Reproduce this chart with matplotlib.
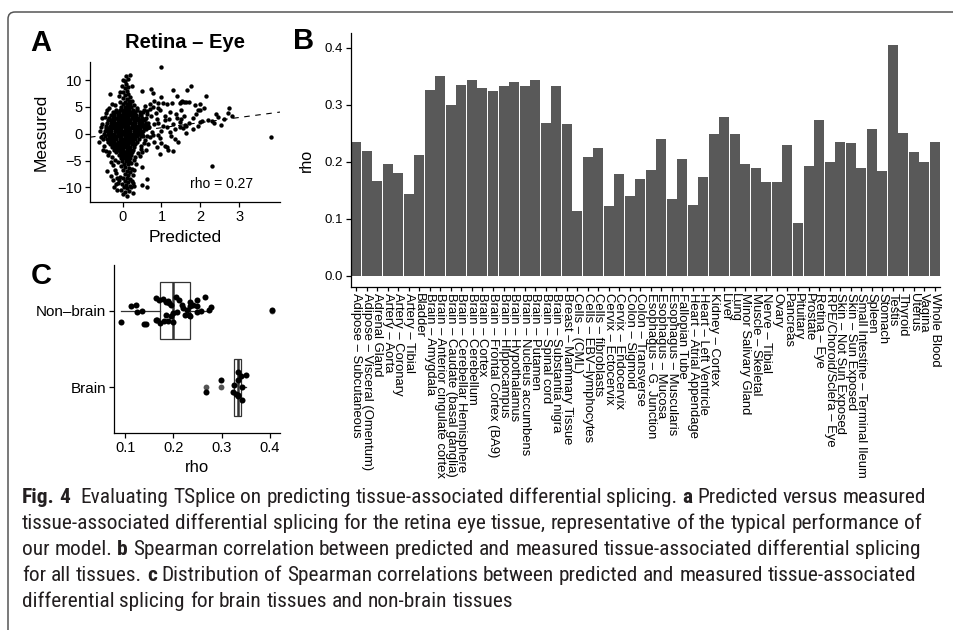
import numpy as np
import matplotlib
matplotlib.use("Agg")
import matplotlib.pyplot as plt
from matplotlib.path import Path
from matplotlib.patches import PathPatch
from matplotlib.transforms import IdentityTransform
from matplotlib import font_manager

# ---------------- data ----------------
tissues = [
    "Adipose – Subcutaneous", "Adipose – Visceral (Omentum)", "Adrenal Gland",
    "Artery – Aorta", "Artery – Coronary", "Artery – Tibial", "Bladder",
    "Brain – Amygdala", "Brain – Anterior cingulate cortex",
    "Brain – Caudate (basal ganglia)", "Brain – Cerebellar Hemisphere",
    "Brain – Cerebellum", "Brain – Cortex", "Brain – Frontal Cortex (BA9)",
    "Brain – Hippocampus", "Brain – Hypothalamus", "Brain – Nucleus accumbens",
    "Brain – Putamen", "Brain – Spinal cord", "Brain – Substantia nigra",
    "Breast – Mammary Tissue", "Cells – (CML)", "Cells – EBV–lymphocytes",
    "Cells – fibroblasts", "Cervix – Ectocervix", "Cervix – Endocervix",
    "Colon – Sigmoid", "Colon – Transverse", "Esophagus – G. Junction",
    "Esophagus – Mucosa", "Esophagus – Muscularis", "Fallopian Tube",
    "Heart – Atrial Appendage", "Heart – Left Ventricle", "Kidney – Cortex",
    "Liver", "Lung", "Minor Salivary Gland", "Muscle – Skeletal",
    "Nerve – Tibial", "Ovary", "Pancreas", "Pituitary", "Prostate",
    "Retina – Eye", "RPE/Choroid/Sclera – Eye", "Skin – Not Sun Exposed",
    "Skin – Sun Exposed", "Small Intestine – Terminal Ileum", "Spleen",
    "Stomach", "Testis", "Thyroid", "Uterus", "Vagina", "Whole Blood",
]
rho = [
    0.234, 0.219, 0.166, 0.196, 0.180, 0.144, 0.212,
    0.326, 0.350, 0.299, 0.334, 0.343, 0.329, 0.324, 0.333, 0.340, 0.333,
    0.343, 0.268, 0.333,
    0.266, 0.113, 0.208, 0.224, 0.122, 0.178, 0.140, 0.170, 0.185, 0.240,
    0.134, 0.205, 0.124, 0.173, 0.248, 0.278, 0.248, 0.196, 0.189, 0.164,
    0.164, 0.229, 0.092, 0.192, 0.273, 0.199, 0.234, 0.233, 0.189, 0.257,
    0.184, 0.405, 0.250, 0.217, 0.199, 0.234,
]
# vertical jitter, in tissue order within each group
brain_jitter = [0.035, 0.165, 0.100, 0.090, 0.0, -0.083, -0.065, 0.196,
                0.143, -0.117, -0.170, -0.065, -0.096]
nonbrain_jitter = [0.122, 0.035, -0.126, 0.078, -0.139, -0.178, 0.143,
                   0.187, 0.065, -0.010, -0.052, 0.074, 0.152, -0.170, 0.143,
                   -0.052, 0.078, 0.0, 0.178, -0.010, -0.161, 0.143, 0.048,
                   0.065, -0.074, 0.135, 0.174, -0.117, 0.013, -0.152, 0.100,
                   0.013, -0.030, 0.065, -0.052, -0.139, 0.004, 0.122, 0.013,
                   -0.010, 0.078, -0.152, -0.074]

# Panel A scatter: predicted vs measured (Retina - Eye)
core_rows = {
    5.0: [-0.05, 0.05, 0.13, 0.21],
    4.5: [-0.18, -0.08, 0.01, 0.09, 0.17, 0.26, 0.36],
    4.0: [-0.26, -0.17, -0.09, 0.0, 0.08, 0.16, 0.24, 0.33, 0.44],
    3.5: [-0.30, -0.22, -0.13, -0.05, 0.03, 0.11, 0.19, 0.27, 0.35, 0.46],
    3.0: [-0.34, -0.26, -0.17, -0.09, -0.01, 0.07, 0.15, 0.23, 0.31, 0.40, 0.50],
    2.5: [-0.37, -0.29, -0.21, -0.12, -0.04, 0.04, 0.12, 0.20, 0.28, 0.36, 0.45, 0.55],
    2.0: [-0.40, -0.31, -0.23, -0.15, -0.07, 0.01, 0.09, 0.17, 0.25, 0.33, 0.41, 0.50, 0.60],
    1.5: [-0.42, -0.33, -0.25, -0.17, -0.09, -0.01, 0.07, 0.15, 0.23, 0.31, 0.39, 0.47, 0.57],
    1.0: [-0.44, -0.35, -0.27, -0.19, -0.11, -0.03, 0.05, 0.13, 0.21, 0.29, 0.37, 0.45, 0.54],
    0.5: [-0.46, -0.37, -0.29, -0.20, -0.12, -0.04, 0.04, 0.12, 0.20, 0.28, 0.36, 0.44, 0.52],
    0.0: [-0.47, -0.38, -0.30, -0.21, -0.13, -0.05, 0.03, 0.11, 0.19, 0.27, 0.35, 0.43, 0.51],
    -0.5: [-0.45, -0.36, -0.28, -0.19, -0.11, -0.03, 0.05, 0.13, 0.21, 0.29, 0.37, 0.46],
    -1.0: [-0.41, -0.33, -0.25, -0.16, -0.08, 0.00, 0.08, 0.16, 0.24, 0.32, 0.41],
    -1.5: [-0.37, -0.29, -0.21, -0.13, -0.05, 0.03, 0.11, 0.19, 0.27, 0.36],
    -2.0: [-0.33, -0.25, -0.17, -0.09, -0.01, 0.07, 0.15, 0.23, 0.31],
    -2.5: [-0.28, -0.20, -0.12, -0.04, 0.04, 0.12, 0.20, 0.28],
    -3.0: [-0.22, -0.14, -0.06, 0.02, 0.10, 0.18, 0.26],
    -3.5: [-0.16, -0.08, 0.00, 0.08, 0.16, 0.24],
    -4.0: [-0.10, -0.02, 0.06, 0.14, 0.22],
    -4.5: [-0.05, 0.03, 0.11, 0.19],
}
edge_pts = [(-0.52, 2.9), (-0.55, 1.2), (-0.50, -1.0), (-0.47, -2.3), (-0.42, 3.8),
            (-0.35, 4.8), (-0.28, 5.6), (-0.20, 5.3), (0.30, 5.3), (0.38, 4.9),
            (0.52, 4.0), (0.60, 2.9), (0.66, 1.4), (0.62, -0.4), (0.55, -1.8),
            (0.48, -2.9), (0.40, -3.6), (0.32, -4.3), (-0.35, -3.5), (-0.42, -3.3),
            (-0.28, -4.4), (-0.20, -4.9), (0.28, -4.9), (-0.12, -5.3), (0.35, -5.6),
            (-0.25, -5.8), (0.30, -6.8), (-0.18, -7.4), (0.26, -7.8), (-0.30, -7.9)]
streak_up = [(0.02, 5.5), (0.12, 5.5), (0.20, 5.6), (-0.06, 5.9), (0.07, 6.0), (0.16, 6.1),
             (0.25, 6.2), (0.0, 6.6), (0.10, 6.5), (0.19, 6.8), (-0.10, 7.0), (0.05, 7.2),
             (0.14, 7.4), (0.02, 7.8), (-0.07, 7.8), (0.10, 8.0), (0.06, 8.5), (0.15, 8.7),
             (-0.02, 8.9), (0.08, 9.3), (0.06, 9.8), (0.016, 10.1), (0.085, 10.7),
             (0.20, 10.9), (0.15, 10.3), (0.24, 9.0)]
streak_down = [(-0.02, -5.0), (0.08, -5.1), (0.17, -5.0), (0.03, -5.6), (0.13, -5.7),
               (0.22, -5.5), (-0.05, -6.1), (0.07, -6.2), (0.16, -6.4), (0.00, -6.8),
               (0.11, -6.9), (0.20, -7.2), (0.05, -7.5), (0.14, -7.7), (-0.06, -8.0),
               (0.02, -8.3), (0.10, -8.2), (0.19, -8.4), (-0.10, -8.7), (0.06, -8.9),
               (0.15, -9.0), (0.24, -8.8), (-0.02, -9.4), (0.09, -9.5), (0.18, -9.7),
               (0.03, -10.0), (0.12, -10.2), (0.21, -10.0), (-0.04, -10.5), (0.07, -10.8),
               (0.16, -10.7), (0.01, -11.3), (0.10, -11.6), (0.27, -11.0), (-0.13, -9.2),
               (0.30, -9.8), (-0.25, -8.6), (-0.18, -9.3), (-0.22, -10.0), (-0.15, -8.2),
               (0.27, -9.2), (-0.20, -6.8), (0.25, -6.5), (-0.15, -10.6)]
left_pts = [(-0.62, -1.5), (-0.50, -3.1), (-0.40, -6.9), (-0.55, -0.6), (-0.58, 0.5),
            (-0.52, 1.9), (-0.45, 3.2), (-0.40, 4.5), (-0.33, 7.4), (-0.30, -5.2),
            (-0.38, -4.0)]
right_pts = [(0.49, 7.9), (0.73, 8.4), (0.77, 7.7), (1.30, 8.1), (1.39, 7.0), (1.28, 5.8),
             (0.92, 5.8), (1.03, 5.8), (1.15, 5.6), (1.47, 5.8), (0.79, 5.0), (0.97, 4.4),
             (1.22, 4.0), (1.37, 3.7), (0.54, 4.4), (0.62, 3.7), (0.70, 4.7), (0.58, 2.8),
             (0.88, 2.8), (1.09, 2.5), (1.30, 1.9), (1.47, 2.2), (1.13, 1.25), (1.00, 0.6),
             (1.22, 0.3), (0.92, -0.3), (0.70, -0.6), (1.13, -2.5), (1.17, -3.1), (1.43, -1.6),
             (0.88, -2.5), (0.66, -1.9), (0.49, -6.3), (0.62, -8.4), (0.49, -9.6), (0.62, -9.9),
             (0.45, 3.5), (0.50, 2.5), (0.55, 1.7), (0.60, 0.8), (0.52, -0.5), (0.58, -1.2),
             (0.48, -2.3), (0.65, 2.0), (0.72, 3.3), (0.68, 1.2), (0.75, 0.3), (0.80, 1.8),
             (0.85, 3.8), (0.90, 2.0), (0.95, -0.8), (1.05, 1.5), (1.10, 3.3), (0.62, 4.2),
             (0.70, 5.5), (0.57, 5.2), (0.82, -1.5), (0.50, -3.5), (0.45, -4.2), (0.60, -3.0),
             (0.77, -0.2), (1.00, -1.7), (1.20, 2.8), (1.25, -0.5), (1.35, 0.8), (1.40, 3.0),
             (1.55, 1.0), (1.58, 3.3), (1.50, 4.5), (1.80, 3.0), (1.85, 5.3), (2.00, 5.6),
             (1.70, 2.0), (2.05, 2.4), (2.35, 2.0), (2.45, 3.1), (2.60, 2.8), (1.35, -1.0),
             (0.90, 4.9), (1.00, 6.8), (0.80, 6.2), (0.95, -3.8), (1.30, -3.3), (1.10, -2.2),
             (0.98, 12.4), (1.75, 9.0), (1.66, 8.1), (1.49, 6.0), (1.54, 6.1), (1.59, 6.0),
             (1.64, 6.0), (1.71, 5.9), (2.14, 7.0), (2.09, 4.8), (1.95, 4.5), (1.99, 4.4),
             (1.90, 3.7), (2.40, 3.6), (2.74, 4.9), (2.72, 3.9), (2.82, 3.4), (1.51, 2.8),
             (1.60, 1.7), (1.64, 1.4), (1.81, 0.9), (1.95, 1.5), (2.00, 2.1), (2.20, 2.6),
             (2.29, 2.4), (2.54, 1.7), (1.63, 0.1), (1.47, 1.25), (2.29, -6.1), (3.82, -0.65)]
fit_intercept = 0.16
fit_slope = 0.96
rho_label = "rho = 0.27"

caption_lines = [
    [("Fig. 4", True), (" ", False),
     ("Evaluating TSplice on predicting tissue-associated differential splicing.", False),
     ("a", True), ("Predicted versus measured", False)],
    [("tissue-associated differential splicing for the retina eye tissue, representative of the typical performance of", False)],
    [("our model.", False), ("b", True),
     ("Spearman correlation between predicted and measured tissue-associated differential splicing", False)],
    [("for all tissues.", False), ("c", True),
     ("Distribution of Spearman correlations between predicted and measured tissue-associated", False)],
    [("differential splicing for brain tissues and non-brain tissues", False)],
]

# ---------------- figure ----------------
W, H = 954, 630
plt.rcParams['font.family'] = ['Liberation Sans', 'DejaVu Sans']
fig = plt.figure(figsize=(W / 100, H / 100), dpi=100)


def rect(l, t, r, b):
    return [l / W, 1 - b / H, (r - l) / W, (b - t) / H]


def ftext(x, y, s, **kw):
    return fig.text(x / W, 1 - y / H, s, **kw)


def style(ax):
    for s in ("top", "right"):
        ax.spines[s].set_visible(False)
    for s in ("left", "bottom"):
        ax.spines[s].set_linewidth(0.9)
        ax.spines[s].set_color("black")
    ax.tick_params(direction="out", length=3.5, width=0.9, color="black",
                   labelcolor="black")


# ---- Panel A ----
axA = fig.add_axes(rect(90, 62, 280, 202))
style(axA)
px, py = [], []
for yv, xs in core_rows.items():
    for xv in xs:
        px.append(xv)
        py.append(yv)
for grp in (edge_pts, streak_up, streak_down, left_pts, right_pts):
    for xv, yv in grp:
        px.append(xv)
        py.append(yv)
axA.scatter(px, py, s=10, c="black", linewidths=0, zorder=3)
axA.axline((0, fit_intercept), slope=fit_slope, color="black", lw=0.8,
           dashes=(5, 5), zorder=4)
axA.set_xlim(-0.84, 4.05)
axA.set_ylim(-12.75, 13.4)
axA.set_xticks([0, 1, 2, 3])
axA.set_yticks([-10, -5, 0, 5, 10])
axA.tick_params(labelsize=10.5, pad=2)
axA.text(2.54, -9.3, rho_label, fontsize=10, ha="center", va="center")

# ---- Panel B ----
axB = fig.add_axes(rect(351, 33, 940, 287))
style(axB)
xpos = np.arange(len(tissues))
axB.bar(xpos, rho, width=0.95, color="#595959", linewidth=0)
axB.set_xlim(-0.5, len(tissues) - 0.5)
axB.set_ylim(-0.02, 0.426)
axB.set_yticks([0.0, 0.1, 0.2, 0.3, 0.4])
axB.set_yticklabels(["0.0", "0.1", "0.2", "0.3", "0.4"])
axB.set_xticks(xpos)
axB.set_xticklabels(tissues, rotation=270, ha="center", va="top")
axB.tick_params(axis="x", labelsize=9.4, pad=1.5, length=3)
axB.tick_params(axis="y", labelsize=9.5, pad=2)

# ---- Panel C ----
axC = fig.add_axes(rect(114, 265, 280, 433))
style(axC)
brain_vals = [v for t, v in zip(tissues, rho) if t.startswith("Brain")]
nonbrain_vals = [v for t, v in zip(tissues, rho) if not t.startswith("Brain")]
bp_kw = dict(positions=[1, 2], widths=0.75, patch_artist=True, showcaps=False,
             boxprops=dict(facecolor="white", edgecolor="#333333", linewidth=0.9),
             medianprops=dict(color="#333333", linewidth=1.8),
             whiskerprops=dict(color="#333333", linewidth=0.9),
             flierprops=dict(marker="o", markerfacecolor="#555555",
                             markeredgecolor="none", markersize=4.2),
             manage_ticks=False)
try:
    axC.boxplot([brain_vals, nonbrain_vals], orientation="horizontal", **bp_kw)
except TypeError:
    axC.boxplot([brain_vals, nonbrain_vals], vert=False, **bp_kw)
axC.scatter(brain_vals, [1 + j for j in brain_jitter], s=19, c="black",
            linewidths=0, zorder=4)
axC.scatter(nonbrain_vals, [2 + j for j in nonbrain_jitter], s=19, c="black",
            linewidths=0, zorder=4)
axC.set_xlim(0.077, 0.421)
axC.set_ylim(0.4, 2.6)
axC.set_yticks([1, 2])
axC.set_yticklabels(["Brain", "Non–brain"])
axC.set_xticks([0.1, 0.2, 0.3, 0.4])
axC.set_xticklabels(["0.1", "0.2", "0.3", "0.4"])
axC.tick_params(axis="y", labelsize=11, pad=2)
axC.tick_params(axis="x", labelsize=10.5, pad=2)

# ---- panel letters and titles ----
ftext(41, 43, "A", fontsize=21, fontweight="bold", ha="center", va="center")
ftext(304, 41, "B", fontsize=21, fontweight="bold", ha="center", va="center")
ftext(41, 276, "C", fontsize=21, fontweight="bold", ha="center", va="center")
ftext(185, 43, "Retina – Eye", fontsize=14.5, fontweight="bold", ha="center", va="center")
ftext(41, 132, "Measured", fontsize=12.5, rotation=90, ha="center", va="center")
ftext(185, 237, "Predicted", fontsize=12.5, ha="center", va="center")
ftext(306, 160, "rho", fontsize=11.5, rotation=90, ha="center", va="center")
ftext(197, 468, "rho", fontsize=12, ha="center", va="center")

# ---- frame ----
frame = Path([(8, -10), (8, H - 12 - 7), (8, H - 12), (15, H - 12), (W + 10, H - 12)],
             [Path.MOVETO, Path.LINETO, Path.CURVE3, Path.CURVE3, Path.LINETO])
fig.add_artist(PathPatch(frame, fill=False, edgecolor="#555555", lw=1.1,
                         transform=IdentityTransform()))

# ---- caption ----
names = {f.name for f in font_manager.fontManager.ttflist}
cap_family, cap_stretch = "Liberation Sans", "normal"
for cand in ["Roboto Condensed", "Liberation Sans Narrow", "Open Sans Condensed"]:
    if cand in names:
        cap_family = cand
        break

renderer = fig.canvas.get_renderer()


def measure(s, fs, bold):
    t = fig.text(0, 0, s, fontsize=fs, fontweight="bold" if bold else "normal",
                 family=cap_family, fontstretch=cap_stretch)
    w = t.get_window_extent(renderer).width
    t.remove()
    return w


def words_of(line):
    out = []
    for seg, bold in line:
        if seg == " ":
            out.append((None, False))
            continue
        for wd in seg.split():
            out.append((wd, bold))
    return out


def line_width(line, fs):
    sp = measure("n n", fs, False) - measure("nn", fs, False)
    x = 0
    for wd, bold in words_of(line):
        x += sp if wd is None else measure(wd, fs, bold) + sp
    return x - sp


base = 12.0
cap_fs = base * 903.0 / line_width(caption_lines[0], base)
space_w = measure("n n", cap_fs, False) - measure("nn", cap_fs, False)
for i, line in enumerate(caption_lines):
    x = 22.0
    ybase = 503 + 26 * i
    for wd, bold in words_of(line):
        if wd is None:
            x += space_w
            continue
        t = ftext(x, ybase, wd, fontsize=cap_fs, fontweight="bold" if bold else "normal",
                  family=cap_family, fontstretch=cap_stretch, color="#231f20",
                  ha="left", va="baseline")
        x += t.get_window_extent(renderer).width + space_w

fig.savefig("out.png", dpi=100)
